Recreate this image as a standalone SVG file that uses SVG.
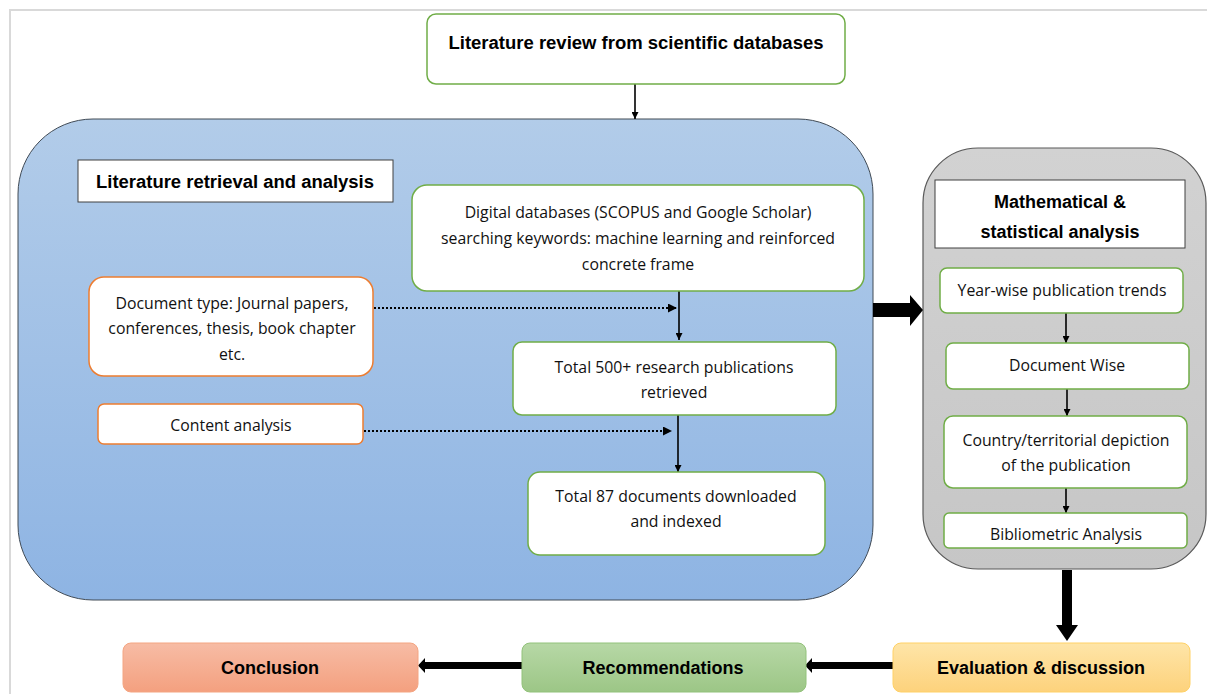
<svg xmlns="http://www.w3.org/2000/svg" width="1207" height="694" viewBox="0 0 1207 694">
  <defs>
    <linearGradient id="gBlue" x1="0" y1="0" x2="0" y2="1">
      <stop offset="0" stop-color="#b2cce9"/>
      <stop offset="1" stop-color="#8eb4e3"/>
    </linearGradient>
    <linearGradient id="gGray" x1="0" y1="0" x2="0" y2="1">
      <stop offset="0" stop-color="#d2d2d2"/>
      <stop offset="1" stop-color="#c6c6c6"/>
    </linearGradient>
    <linearGradient id="gOrange" x1="0" y1="0" x2="0" y2="1">
      <stop offset="0" stop-color="#f7bca5"/>
      <stop offset="1" stop-color="#f4a07f"/>
    </linearGradient>
    <linearGradient id="gGreen" x1="0" y1="0" x2="0" y2="1">
      <stop offset="0" stop-color="#b7d8a6"/>
      <stop offset="1" stop-color="#9cc686"/>
    </linearGradient>
    <linearGradient id="gYellow" x1="0" y1="0" x2="0" y2="1">
      <stop offset="0" stop-color="#fee5a8"/>
      <stop offset="1" stop-color="#fdd27c"/>
    </linearGradient>
    <marker id="ah" viewBox="0 0 10 10" refX="10" refY="5" markerWidth="7" markerHeight="7" markerUnits="userSpaceOnUse" orient="auto">
      <path d="M0,0 L10,5 L0,10 z" fill="#000"/>
    </marker>
    <marker id="ahDot" viewBox="0 0 10 10" refX="10" refY="5" markerWidth="9" markerHeight="9" markerUnits="userSpaceOnUse" orient="auto">
      <path d="M0,0 L10,5 L0,10 z" fill="#000"/>
    </marker>
    <clipPath id="clipBib">
      <rect x="944" y="513" width="243" height="35"/>
    </clipPath>
  </defs>
  <style>
    .frame { stroke: #d9d9d9; stroke-width: 2; fill: none; }
    .green { fill: #fff; stroke: #70ad47; stroke-width: 1.5; }
    .orange { fill: #fff; stroke: #ed7d31; stroke-width: 1.5; }
    .plain { fill: #fff; stroke: #404040; stroke-width: 1; }
    .t { font-family: "Open Sans", "Liberation Sans", sans-serif; font-size: 15.8px; fill: #111; text-anchor: middle; }
    .b { font-family: "Liberation Sans", Arial, sans-serif; font-size: 18px; font-weight: bold; fill: #000; text-anchor: middle; }
    .line { stroke: #000; stroke-width: 1.6; fill: none; }
    .dot { stroke: #000; stroke-width: 2; stroke-dasharray: 2 2; fill: none; }
  </style>

  <!-- page frame -->
  <path class="frame" d="M10,694 L10,10 L1207,10"/>

  <!-- containers -->
  <g id="retrieval-panel">
    <rect x="18" y="119" width="855" height="481" rx="75" ry="75" fill="url(#gBlue)" stroke="#404a55" stroke-width="1"/>
  </g>
  <g id="analysis-panel">
    <rect x="923" y="148" width="283" height="421" rx="55" ry="55" fill="url(#gGray)" stroke="#595959" stroke-width="1.2"/>
  </g>

  <!-- connectors -->
  <g id="connectors">
    <line class="line" x1="635" y1="84" x2="635" y2="119" marker-end="url(#ah)"/>
    <line class="line" x1="679" y1="291" x2="679" y2="340" marker-end="url(#ah)"/>
    <line class="line" x1="678" y1="415" x2="678" y2="472" marker-end="url(#ah)"/>
    <line class="dot" x1="374" y1="308" x2="677" y2="308" marker-end="url(#ahDot)"/>
    <line class="dot" x1="364" y1="431" x2="672" y2="431" marker-end="url(#ahDot)"/>
    <line class="line" x1="1066" y1="313" x2="1066" y2="343" marker-end="url(#ah)"/>
    <line class="line" x1="1067" y1="389" x2="1067" y2="416" marker-end="url(#ah)"/>
    <line class="line" x1="1066" y1="488" x2="1066" y2="513" marker-end="url(#ah)"/>
    <!-- block arrows -->
    <path d="M873,303 L910,303 L910,295 L923,310 L910,326 L910,317 L873,317 z" fill="#000"/>
    <path d="M1062,570 L1072,570 L1072,625 L1078,625 L1067,641 L1056,625 L1062,625 z" fill="#000"/>
    <path d="M893,662 L812,662 L812,658 L805,665.5 L812,673 L812,669 L893,669 z" fill="#000"/>
    <path d="M522,662 L425,662 L425,658 L418,665.5 L425,673 L425,669 L522,669 z" fill="#000"/>
  </g>

  <g id="n-review">
    <rect class="green" x="427" y="14" width="418" height="70" rx="9"/>
    <text class="b" x="636" y="49" textLength="375" lengthAdjust="spacingAndGlyphs">Literature review from scientific databases</text>
  </g>

  <g id="n-retrieval-title">
    <rect class="plain" x="78" y="160" width="315" height="42"/>
    <text class="b" x="235" y="188" textLength="278" lengthAdjust="spacingAndGlyphs">Literature retrieval and analysis</text>
  </g>

  <g id="n-databases">
    <rect class="green" x="412" y="185" width="452" height="106" rx="15"/>
    <text class="t" x="638" y="218">Digital databases (SCOPUS and Google Scholar)</text>
    <text class="t" x="638" y="244">searching keywords: machine learning and reinforced</text>
    <text class="t" x="638" y="270">concrete frame</text>
  </g>

  <g id="n-doctype">
    <rect class="orange" x="89" y="277" width="284" height="99" rx="15"/>
    <text class="t" x="232" y="309">Document type: Journal papers,</text>
    <text class="t" x="232" y="334">conferences, thesis, book chapter</text>
    <text class="t" x="232" y="360">etc.</text>
  </g>

  <g id="n-retrieved">
    <rect class="green" x="513" y="342" width="323" height="73" rx="9"/>
    <text class="t" x="674" y="373">Total 500+ research publications</text>
    <text class="t" x="674" y="398">retrieved</text>
  </g>

  <g id="n-content">
    <rect class="orange" x="98" y="404" width="265" height="40" rx="6"/>
    <text class="t" x="231" y="431">Content analysis</text>
  </g>

  <g id="n-indexed">
    <rect class="green" x="528" y="472" width="297" height="83" rx="12"/>
    <text class="t" x="676" y="502">Total 87 documents downloaded</text>
    <text class="t" x="676" y="527">and indexed</text>
  </g>

  <g id="n-math-title">
    <rect class="plain" x="935" y="180" width="250" height="68"/>
    <text class="b" x="1060" y="208">Mathematical &amp;</text>
    <text class="b" x="1060" y="238">statistical analysis</text>
  </g>

  <g id="n-yearwise">
    <rect class="green" x="940" y="268" width="243" height="45" rx="7"/>
    <text class="t" x="1062" y="296">Year-wise publication trends</text>
  </g>

  <g id="n-docwise">
    <rect class="green" x="946" y="343" width="243" height="46" rx="7"/>
    <text class="t" x="1067" y="371">Document Wise</text>
  </g>

  <g id="n-country">
    <rect class="green" x="944" y="416" width="243" height="72" rx="9"/>
    <text class="t" x="1066" y="446">Country/territorial depiction</text>
    <text class="t" x="1066" y="471">of the publication</text>
  </g>

  <g id="n-bibliometric">
    <rect class="green" x="944" y="513" width="243" height="35" rx="5"/>
    <text class="t" x="1066" y="540" clip-path="url(#clipBib)">Bibliometric Analysis</text>
  </g>

  <g id="n-evaluation">
    <rect x="893" y="643" width="297" height="49" rx="8" fill="url(#gYellow)" stroke="#ffd166" stroke-width="1"/>
    <text class="b" x="1041" y="674">Evaluation &amp; discussion</text>
  </g>

  <g id="n-recommendations">
    <rect x="522" y="643" width="284" height="49" rx="8" fill="url(#gGreen)" stroke="#92c27a" stroke-width="1"/>
    <text class="b" x="663" y="674">Recommendations</text>
  </g>

  <g id="n-conclusion">
    <rect x="123" y="643" width="295" height="49" rx="8" fill="url(#gOrange)" stroke="#f4a582" stroke-width="1"/>
    <text class="b" x="270" y="674">Conclusion</text>
  </g>
</svg>
